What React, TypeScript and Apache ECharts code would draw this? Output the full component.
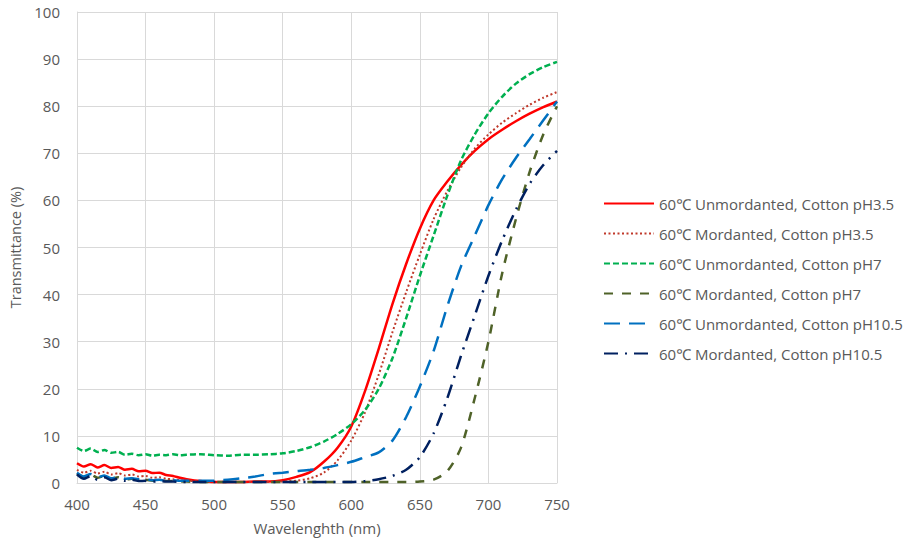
import React, { useEffect, useRef } from "react";
import * as echarts from "echarts";

const wavelengths = [
  400, 405, 410, 415, 420, 425, 430, 435, 440, 445, 450, 455, 460, 465, 470, 475, 480,
  490, 500, 510, 520, 530, 540, 550, 560, 570, 580, 590, 600, 610, 620, 630, 640, 650,
  660, 670, 680, 690, 700, 710, 720, 730, 740, 750,
];

const unmordantedPH35 = [
  4.2, 3.5, 4.0, 3.3, 3.8, 3.2, 3.4, 2.8, 3.0, 2.5, 2.6, 2.1, 2.2, 1.7, 1.5, 1.1, 0.8,
  0.4, 0.2, 0.2, 0.2, 0.3, 0.3, 0.6, 1.3, 2.3, 4.5, 7.5, 12, 19.5, 28.5, 38, 46.5, 54,
  60, 64, 67.5, 70.5, 73, 75, 76.8, 78.4, 79.8, 81,
];

const mordantedPH35 = [
  2.8, 2.2, 2.6, 2.0, 2.4, 1.8, 2.1, 1.6, 1.8, 1.4, 1.5, 1.1, 1.2, 0.9, 0.8, 0.6, 0.5,
  0.3, 0.2, 0.2, 0.2, 0.2, 0.2, 0.3, 0.5, 1.0, 2.2, 4.8, 9, 15, 23, 32, 40.5, 48.5,
  56, 62, 67, 71, 74, 76.5, 78.5, 80.3, 81.8, 83,
];

const unmordantedPH7 = [
  7.5, 6.8, 7.3, 6.6, 7.0, 6.4, 6.6, 6.0, 6.2, 5.9, 6.1, 5.8, 6.0, 5.9, 6.1, 5.9, 6.0,
  6.1, 5.9, 5.8, 6.0, 6.0, 6.1, 6.3, 6.8, 7.6, 8.8, 10.4, 12.5, 15.5, 20, 26.5, 35, 44,
  52.5, 61, 68.5, 74, 78.5, 82, 84.8, 86.8, 88.3, 89.4,
];

const mordantedPH7 = [
  2.0, 1.3, 1.8, 1.1, 1.5, 0.9, 1.2, 0.7, 0.9, 0.6, 0.7, 0.5, 0.5, 0.4, 0.4, 0.3, 0.3,
  0.2, 0.2, 0.2, 0.2, 0.2, 0.2, 0.2, 0.2, 0.2, 0.2, 0.2, 0.2, 0.2, 0.2, 0.2, 0.2, 0.3,
  0.7, 2.5, 7.5, 18, 30, 44.5, 56, 66, 74, 80,
];

const unmordantedPH105 = [
  2.2, 1.4, 1.9, 1.2, 1.6, 1.0, 1.3, 0.9, 1.0, 0.8, 0.8, 0.6, 0.7, 0.5, 0.6, 0.5, 0.5,
  0.5, 0.5, 0.7, 1.0, 1.4, 1.9, 2.2, 2.5, 2.8, 3.2, 3.8, 4.5, 5.5, 6.5, 9, 14, 20.5,
  28, 37.5, 46, 52.5, 59, 64.5, 69, 73, 77, 81,
];

const mordantedPH105 = [
  1.8, 0.9, 1.5, 0.7, 1.2, 0.6, 0.9, 0.5, 0.7, 0.4, 0.5, 0.3, 0.4, 0.3, 0.3, 0.2, 0.2,
  0.2, 0.2, 0.2, 0.2, 0.2, 0.2, 0.2, 0.2, 0.2, 0.2, 0.2, 0.2, 0.4, 0.8, 1.5, 2.8, 5.5,
  10.5, 18, 27, 35.5, 44, 51.5, 58, 63.5, 67.5, 70.5,
];

const seriesNames = [
  "60℃ Unmordanted, Cotton pH3.5",
  "60℃ Mordanted, Cotton pH3.5",
  "60℃ Unmordanted, Cotton pH7",
  "60℃ Mordanted, Cotton pH7",
  "60℃ Unmordanted, Cotton pH10.5",
  "60℃ Mordanted, Cotton pH10.5",
];

const seriesValues = [
  unmordantedPH35,
  mordantedPH35,
  unmordantedPH7,
  mordantedPH7,
  unmordantedPH105,
  mordantedPH105,
];

const seriesStyles: { color: string; type: any; width: number }[] = [
  { color: "#ff0000", type: "solid", width: 2.5 },
  { color: "#c0392b", type: [2, 2.5], width: 2 },
  { color: "#00b050", type: [6, 3], width: 2.5 },
  { color: "#4f6228", type: [9, 9], width: 2.5 },
  { color: "#0070c0", type: [16, 9], width: 2.5 },
  { color: "#002060", type: [14, 7, 2, 7], width: 2.5 },
];

const FONT = "'Open Sans', 'Noto Sans', sans-serif";
const TEXT = "#595959";

export default function App() {
  const ref = useRef<HTMLDivElement>(null);

  useEffect(() => {
    if (!ref.current) return;
    const chart = echarts.init(ref.current, undefined, { renderer: "svg" });
    chart.setOption({
      animation: false,
      backgroundColor: "#ffffff",
      grid: { left: 77, right: 355, top: 12, bottom: 61, containLabel: false },
      legend: {
        orient: "vertical",
        left: 598,
        top: 191,
        itemWidth: 50,
        itemHeight: 14,
        itemGap: 15,
        itemStyle: { opacity: 0 },
        textStyle: { fontSize: 15, color: TEXT, fontFamily: FONT },
        data: seriesNames,
      },
      xAxis: {
        type: "value",
        min: 400,
        max: 750,
        interval: 50,
        name: "Wavelenghth (nm)",
        nameLocation: "middle",
        nameGap: 37,
        nameTextStyle: { fontSize: 15, color: TEXT, fontFamily: FONT },
        axisLine: { show: true, lineStyle: { color: "#d9d9d9" } },
        axisTick: { show: false },
        axisLabel: { margin: 13, fontSize: 15, color: TEXT, fontFamily: FONT },
        splitLine: { show: true, lineStyle: { color: "#d9d9d9", width: 1 } },
      },
      yAxis: {
        type: "value",
        min: 0,
        max: 100,
        interval: 10,
        name: "Transmittance (%)",
        nameLocation: "middle",
        nameGap: 52,
        nameTextStyle: { fontSize: 14.5, color: TEXT, fontFamily: FONT },
        axisLine: { show: true, lineStyle: { color: "#d9d9d9" } },
        axisTick: { show: false },
        axisLabel: { margin: 17, fontSize: 15, color: TEXT, fontFamily: FONT },
        splitLine: { show: true, lineStyle: { color: "#d9d9d9", width: 1 } },
      },
      series: seriesNames.map((name, i) => ({
        name,
        type: "line",
        data: wavelengths.map((w, j) => [w, seriesValues[i][j]]),
        showSymbol: false,
        symbol: "none",
        smooth: 0.25,
        lineStyle: {
          color: seriesStyles[i].color,
          type: seriesStyles[i].type,
          width: seriesStyles[i].width,
        },
        itemStyle: { color: seriesStyles[i].color },
      })),
    });
    return () => chart.dispose();
  }, []);

  return (
    <div
      ref={ref}
      style={{ position: "fixed", left: 0, top: 0, width: 912, height: 544, background: "#fff" }}
    />
  );
}
